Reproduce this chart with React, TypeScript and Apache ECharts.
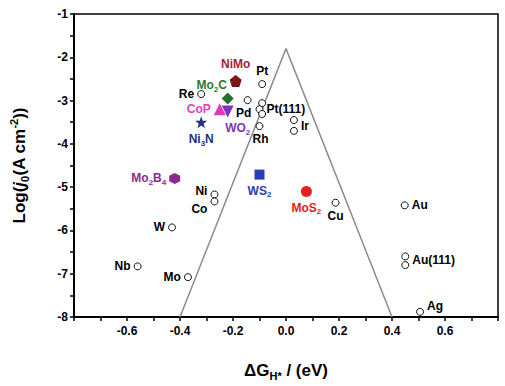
import React, { useEffect, useRef } from "react";
import * as echarts from "echarts";

// Open-circle metals
const metalNames = ["Re", "Pt", "Pd", "", "Pt(111)", "", "Rh", "", "Ir", "Ni", "Co", "W", "Nb", "Mo", "Cu", "Au", "", "Au(111)", "Ag"];
const metalDG = [-0.32, -0.09, -0.145, -0.09, -0.1, -0.09, -0.1, 0.03, 0.03, -0.27, -0.27, -0.43, -0.56, -0.37, 0.187, 0.448, 0.45, 0.45, 0.506];
const metalLogJ = [-2.85, -2.62, -2.99, -3.06, -3.2, -3.31, -3.59, -3.45, -3.7, -5.17, -5.33, -5.93, -6.83, -7.08, -5.36, -5.42, -6.6, -6.8, -7.88];

// Catalysts (filled markers)
const catNames = ["NiMo", "Mo{s|2}C", "CoP", "WO{s|2}", "Ni{s|3}N", "Mo{s|2}B{s|4}", "WS{s|2}", "MoS{s|2}"];
const catDG = [-0.19, -0.22, -0.25, -0.22, -0.32, -0.42, -0.1, 0.077];
const catLogJ = [-2.55, -2.95, -3.2, -3.25, -3.5, -4.8, -4.71, -5.1];

// Volcano guide lines
const volcanoDG = [-0.4, 0, 0.4];
const volcanoLogJ = [-8, -1.8, -8];

// styling (kept separate from data)
const metalLabelPos: [string, number[]][] = [
  ["left", [0, 0]], ["top", [0, 0]], ["bottom", [-4, 0]], ["right", [0, 0]], ["right", [0, 0]], ["right", [0, 0]],
  ["bottom", [1, 0]], ["right", [0, 0]], ["right", [0, -5]], ["left", [0, -4]], ["left", [0, 8]], ["left", [0, 0]],
  ["left", [0, 0]], ["left", [0, 0]], ["bottom", [0, 0]], ["right", [0, 0]], ["right", [0, 0]], ["right", [0, -5]], ["right", [0, -6]],
];
const catColors = ["#7e1518", "#23702c", "#d83cc0", "#7a34c0", "#1f2f85", "#8c2a8c", "#2b3db5", "#e62020"];
const catLabelColors = ["#a01f3c", "#2a7a32", "#e03fc4", "#7a34c0", "#1f2f85", "#8c2a8c", "#2b3db5", "#e62020"];
const catSymbols = [
  "path://M0,-10 L9.51,-3.09 L5.88,8.09 L-5.88,8.09 L-9.51,-3.09 Z",
  "diamond",
  "triangle",
  "triangle",
  "path://M0,-10 L2.35,-3.24 L9.51,-3.09 L3.8,1.24 L5.88,8.09 L0,4 L-5.88,8.09 L-3.8,1.24 L-9.51,-3.09 L-2.35,-3.24 Z",
  "path://M8.66,-5 L8.66,5 L0,10 L-8.66,5 L-8.66,-5 L0,-10 Z",
  "rect",
  "circle",
];
const catSizes = [12, 12, 12, 12, 12, 11, 10, 11];
const catRotate = [0, 0, 0, 180, 0, 0, 0, 0];
const catLabelPos: [string, number[]][] = [
  ["top", [0, 0]], ["top", [-16, 4]], ["left", [0, 0]], ["bottom", [10, 0]],
  ["bottom", [0, 0]], ["left", [0, 0]], ["bottom", [0, 0]], ["bottom", [0, 0]],
];

const FONT = "Liberation Sans, Arial, sans-serif";

export default function App() {
  const ref = useRef<HTMLDivElement>(null);
  useEffect(() => {
    document.body.style.margin = "0";
    if (!ref.current) return;
    const chart = echarts.init(ref.current, undefined, { renderer: "svg" });
    const labelRich = {
      b: { fontSize: 12, fontWeight: "bold", fontFamily: FONT, verticalAlign: "middle", lineHeight: 16 },
      s: { fontSize: 8, fontWeight: "bold", fontFamily: FONT, verticalAlign: "bottom", lineHeight: 16 },
    };
    const wrap = (t: string) =>
      t.replace(/(^|\})([^{}]+)(?=\{|$)/g, (m, p, txt) => `${p}{b|${txt}}`);

    const metalData = metalDG.map((x, i) => ({
      value: [x, metalLogJ[i]],
      label: {
        show: metalNames[i] !== "",
        formatter: metalNames[i],
        position: metalLabelPos[i][0],
        offset: metalLabelPos[i][1],
        distance: 3,
        color: "#000",
        fontSize: 12,
        fontWeight: "bold",
        fontFamily: FONT,
      },
    }));

    const catSeries = catNames.map((n, i) => ({
      type: "scatter",
      data: [[catDG[i], catLogJ[i]]],
      symbol: catSymbols[i],
      symbolSize: catSizes[i],
      symbolRotate: catRotate[i],
      itemStyle: { color: catColors[i], opacity: 1 },
      z: 5,
      label: {
        show: true,
        formatter: wrap(n),
        position: catLabelPos[i][0],
        offset: catLabelPos[i][1],
        distance: 3,
        color: catLabelColors[i],
        fontSize: 12,
        fontWeight: "bold",
        fontFamily: FONT,
        rich: labelRich,
      },
    }));

    chart.setOption({
      animation: false,
      grid: { left: 68, right: 7, top: 14, bottom: 68, show: true, borderColor: "#000", borderWidth: 1.5 },
      xAxis: {
        type: "value",
        min: -0.8,
        max: 0.8,
        interval: 0.1,
        splitLine: { show: false },
        axisLine: { lineStyle: { color: "#000", width: 2 }, onZero: false },
        axisTick: { length: 4, lineStyle: { color: "#000", width: 1.5 } },
        axisLabel: {
          color: "#000",
          fontSize: 12,
          fontWeight: "bold",
          fontFamily: FONT,
          margin: 8,
          formatter: (v: number) => {
            const k = Math.round(v * 10);
            if (k % 2 !== 0 || Math.abs(k) > 6) return "";
            return (k / 10).toFixed(1);
          },
        },
        name: "{t|ΔG}{s|H*}{t| / (eV)}",
        nameLocation: "middle",
        nameGap: 42,
        nameTextStyle: {
          rich: {
            t: { fontSize: 17, fontWeight: "bold", fontFamily: FONT, color: "#000", verticalAlign: "middle", lineHeight: 22 },
            s: { fontSize: 11, fontWeight: "bold", fontFamily: FONT, color: "#000", verticalAlign: "bottom", lineHeight: 22 },
          },
        },
      },
      yAxis: {
        type: "value",
        min: -8,
        max: -1,
        interval: 0.5,
        splitLine: { show: false },
        axisLine: { lineStyle: { color: "#000", width: 2 }, onZero: false },
        axisTick: { length: 4, lineStyle: { color: "#000", width: 1.5 } },
        axisLabel: {
          color: "#000",
          fontSize: 12,
          fontWeight: "bold",
          fontFamily: FONT,
          margin: 6,
          formatter: (v: number) => (Math.abs(v - Math.round(v)) < 1e-6 ? String(Math.round(v)) : ""),
        },
        name: "{t|Log(}{i|j}{s|0}{t|(A cm}{p|-2}{t|))}",
        nameLocation: "middle",
        nameGap: 44,
        nameTextStyle: {
          rich: {
            t: { fontSize: 17, fontWeight: "bold", fontFamily: FONT, color: "#000", verticalAlign: "middle", lineHeight: 22 },
            i: { fontSize: 17, fontWeight: "bold", fontStyle: "italic", fontFamily: FONT, color: "#000", verticalAlign: "middle", lineHeight: 22 },
            s: { fontSize: 11, fontWeight: "bold", fontFamily: FONT, color: "#000", verticalAlign: "bottom", lineHeight: 22 },
            p: { fontSize: 11, fontWeight: "bold", fontFamily: FONT, color: "#000", verticalAlign: "top", lineHeight: 22 },
          },
        },
      },
      series: [
        {
          type: "line",
          data: volcanoDG.map((x, i) => [x, volcanoLogJ[i]]),
          showSymbol: false,
          symbol: "none",
          lineStyle: { color: "#8c8c8c", width: 1.5 },
          z: 1,
          silent: true,
        },
        {
          type: "scatter",
          data: metalData,
          symbol: "circle",
          symbolSize: 7,
          itemStyle: { color: "#fff", borderColor: "#111", borderWidth: 1, opacity: 1 },
          z: 4,
        },
        ...catSeries,
      ],
    } as any);
    return () => chart.dispose();
  }, []);
  return <div ref={ref} style={{ width: 505, height: 386 }} />;
}
